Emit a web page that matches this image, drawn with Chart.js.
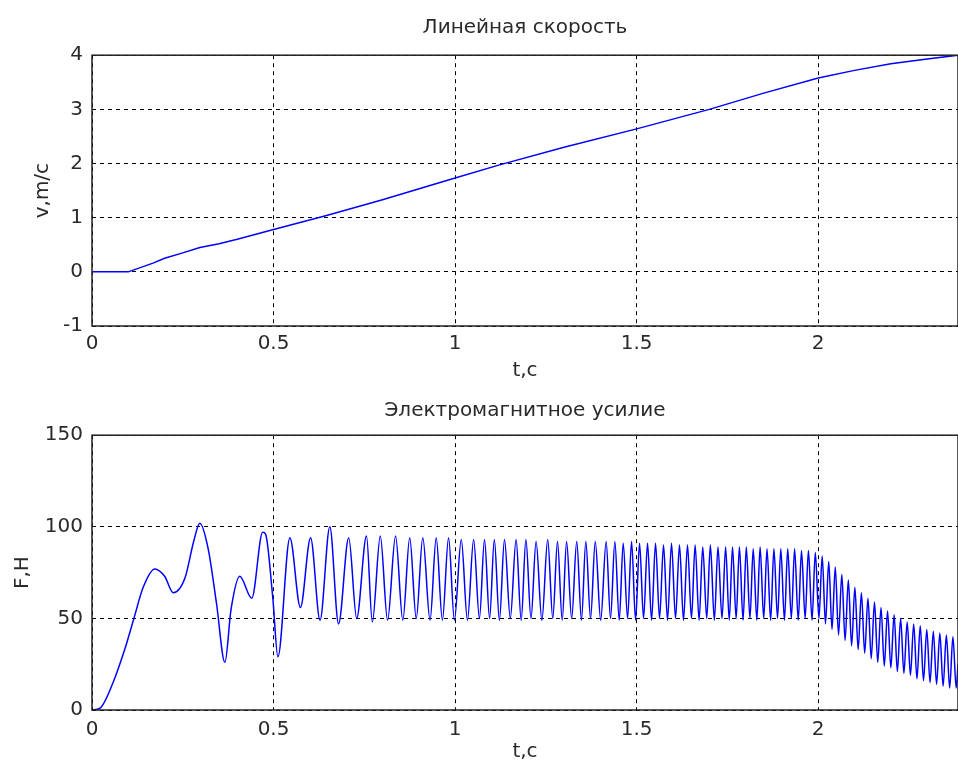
<!DOCTYPE html>
<html>
<head>
<meta charset="utf-8">
<script src="https://cdn.jsdelivr.net/npm/chart.js@4/dist/chart.umd.min.js"></script>
<style>
  html, body { margin: 0; padding: 0; background: #fff; }
  canvas { position: absolute; left: 0; }
  #speedChart { top: 0; }
  #forceChart { top: 385px; }
</style>
</head>
<body>
<canvas id="speedChart" width="958" height="385"></canvas>
<canvas id="forceChart" width="958" height="384"></canvas>
<script>
/* ── Data ── */
const timeTicks = [0, 0.5, 1, 1.5, 2];
const speedTicks = [-1, 0, 1, 2, 3, 4];
const forceTicks = [0, 50, 100, 150];

const speedTime = [0, 0.1, 0.168, 0.2, 0.25, 0.297, 0.35, 0.4, 0.5, 0.646, 0.8, 0.993, 1.12, 1.3, 1.5, 1.7, 1.85, 2.0, 2.1, 2.2, 2.3, 2.385];
const speedValue = [0, 0, 0.16, 0.25, 0.35, 0.45, 0.52, 0.6, 0.78, 1.04, 1.33, 1.72, 1.97, 2.3, 2.64, 3.0, 3.3, 3.58, 3.72, 3.84, 3.93, 4.0];

const forceTime = [
  0, 0.022, 0.058, 0.09, 0.114, 0.141, 0.173, 0.2, 0.224, 0.256, 0.28, 0.297, 0.32, 0.343, 0.366, 0.383,
  0.407, 0.44, 0.47, 0.478, 0.498, 0.512, 0.545, 0.574, 0.602, 0.628, 0.655, 0.679, 0.707, 0.729, 0.756,
  0.772, 0.794, 0.814, 0.836, 0.856, 0.875, 0.893, 0.911, 0.931, 0.948, 0.965, 0.982, 0.998, 1.017, 1.034, 1.051, 1.067, 1.081,
  1.095, 1.108, 1.122, 1.136, 1.152, 1.168, 1.182, 1.195, 1.209, 1.223, 1.239, 1.255, 1.269, 1.282, 1.295, 1.307,
  1.321, 1.335, 1.348, 1.36, 1.373, 1.386, 1.401, 1.416,
  1.428, 1.44, 1.452, 1.463, 1.475, 1.486, 1.497, 1.508, 1.519, 1.53, 1.541, 1.552, 1.563, 1.574, 1.585, 1.596,
  1.607, 1.618, 1.629, 1.64, 1.651, 1.661, 1.672, 1.682, 1.693, 1.703, 1.714, 1.724, 1.735, 1.745,
  1.755, 1.764, 1.774, 1.783, 1.793, 1.802, 1.812, 1.821, 1.831, 1.84, 1.85, 1.859, 1.869, 1.878, 1.888, 1.897,
  1.907, 1.916, 1.926, 1.935, 1.945, 1.954, 1.964, 1.973, 1.983, 1.992, 2.002, 2.011,
  2.02, 2.029, 2.038, 2.047, 2.056, 2.065, 2.074, 2.083, 2.092, 2.101, 2.11, 2.119, 2.128, 2.137, 2.146, 2.155,
  2.164, 2.173, 2.182, 2.191, 2.2, 2.209, 2.218, 2.227, 2.236, 2.245, 2.254, 2.263, 2.272, 2.281, 2.29, 2.299,
  2.308, 2.317, 2.326, 2.335, 2.344, 2.353, 2.362, 2.371, 2.38, 2.385
];
const forceValue = [
  0, 1, 15, 33, 49, 67, 77, 73, 64, 72, 92, 102, 88, 58, 26, 55,
  73, 61, 97, 96, 61, 29, 94, 56, 94, 49, 100, 47, 94, 50, 95,
  48, 95, 49, 95, 49, 94, 50, 94, 49, 94, 49, 94, 49, 93, 49, 93, 50, 93,
  50, 93, 49, 93, 50, 93, 49, 93, 50, 92, 49, 93, 50, 92, 49, 92,
  50, 92, 49, 92, 50, 92, 49, 92,
  50, 92, 49, 91, 50, 92, 49, 91, 50, 91, 49, 91, 50, 90, 49, 91,
  50, 90, 49, 90, 50, 90, 49, 89, 50, 90, 49, 89, 50, 89,
  49, 89, 50, 89, 49, 89, 50, 88, 49, 89, 50, 88, 49, 88, 50, 88,
  49, 88, 50, 88, 49, 87, 50, 87, 49, 86, 50, 84,
  47, 81, 44, 78, 41, 74, 38, 71, 35, 67, 33, 64, 31, 61, 28, 59,
  26, 56, 24, 54, 23, 52, 21, 50, 20, 48, 19, 47, 17, 46, 16, 44,
  15, 43, 14, 42, 13, 41, 12, 40, 12, 25
];

const TIME_MAX = 2.385;

/* ── Style ── */
const FONT = { family: "'DejaVu Sans', Verdana, sans-serif", size: 20 };
const TEXT = '#2a2a2a';

Chart.defaults.font.family = FONT.family;
Chart.defaults.color = TEXT;

const boxPlugin = {
  id: 'axesBox',
  afterDraw(chart) {
    const { ctx, chartArea: a } = chart;
    ctx.save();
    ctx.strokeStyle = '#222';
    ctx.lineWidth = 1.5;
    ctx.strokeRect(a.left, a.top, a.right - a.left, a.bottom - a.top);
    ctx.restore();
  },
};

function gridStyle() {
  return {
    grid: { color: '#000', lineWidth: 1, drawTicks: false },
    border: { display: false, dash: [4, 4] },
  };
}

function makeChart(id, opts) {
  const yWidth = 92;
  return new Chart(document.getElementById(id), {
    type: 'line',
    data: {
      datasets: [{
        data: opts.xs.map((t, i) => ({ x: t, y: opts.ys[i] })),
        borderColor: '#0000ff',
        borderWidth: 1.5,
        pointRadius: 0,
        fill: false,
        cubicInterpolationMode: opts.smooth ? 'monotone' : 'default',
        tension: 0,
      }],
    },
    options: {
      responsive: false,
      devicePixelRatio: 1,
      animation: false,
      events: [],
      layout: { padding: 0 },
      plugins: {
        legend: { display: false },
        tooltip: { enabled: false },
        title: {
          display: true,
          text: opts.title,
          fullSize: false,
          color: TEXT,
          font: { ...FONT, weight: 'normal' },
          padding: opts.titlePad,
        },
      },
      scales: {
        x: {
          type: 'linear',
          min: 0,
          max: TIME_MAX,
          ...gridStyle(),
          afterBuildTicks: s => { s.ticks = timeTicks.map(v => ({ value: v })); },
          afterFit: s => { s.height = opts.xHeight; },
          ticks: { font: FONT, padding: opts.xTickPad, maxRotation: 0, callback: v => String(v) },
          title: { display: true, text: 't,c', font: FONT, padding: { top: 0, bottom: opts.xTitlePad } },
        },
        y: {
          type: 'linear',
          min: opts.yTicks[0],
          max: opts.yTicks[opts.yTicks.length - 1],
          ...gridStyle(),
          afterBuildTicks: s => { s.ticks = opts.yTicks.map(v => ({ value: v })); },
          afterFit: s => { s.width = yWidth; },
          ticks: { font: FONT, padding: 9, callback: v => String(v) },
          title: { display: true, text: opts.yLabel, font: FONT, padding: { top: opts.yTitlePad, bottom: 0 } },
        },
      },
    },
    plugins: [boxPlugin],
  });
}

makeChart('speedChart', {
  xs: speedTime,
  ys: speedValue,
  smooth: false,
  title: 'Линейная скорость',
  titlePad: { top: 16, bottom: 15.2 },
  xHeight: 59,
  xTickPad: 6,
  xTitlePad: 2,
  yTicks: speedTicks,
  yLabel: 'v,m/c',
  yTitlePad: 31,
});

makeChart('forceChart', {
  xs: forceTime,
  ys: forceValue,
  smooth: true,
  title: 'Электромагнитное усилие',
  titlePad: { top: 13.6, bottom: 12.6 },
  xHeight: 59,
  xTickPad: 8,
  xTitlePad: 5.6,
  yTicks: forceTicks,
  yLabel: 'F,H',
  yTitlePad: 10.6,
});
</script>
</body>
</html>
